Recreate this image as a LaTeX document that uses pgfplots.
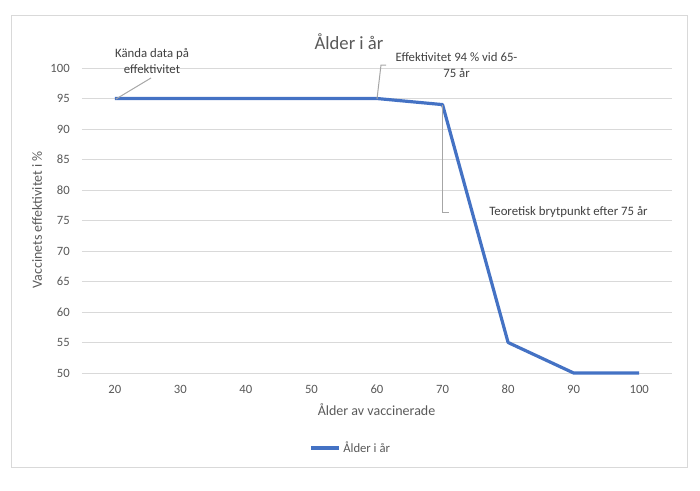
\documentclass[border=0pt]{standalone}
\usepackage{fontspec}
\setmainfont{Carlito}
\usepackage{pgfplots}
\pgfplotsset{compat=1.18}
\definecolor{txt}{HTML}{595959}
\definecolor{ann}{HTML}{404040}
\definecolor{gridc}{HTML}{D9D9D9}
\definecolor{lead}{HTML}{A6A6A6}
\definecolor{ser}{HTML}{4472C4}
\begin{document}
\begin{tikzpicture}
\begin{axis}[
  name=ax, at={(0,0)}, anchor=south west,
  scale only axis, width=442.5pt, height=228.75pt,
  xmin=15, xmax=105, ymin=50, ymax=100,
  xtick={20,30,...,100}, ytick={50,55,...,100},
  axis line style={draw=none},
  major tick length=0pt,
  ymajorgrids=true, xmajorgrids=false,
  major grid style={draw=gridc, line width=0.75pt},
  /pgf/number format/assume math mode=true,
  ticklabel style={font=\fontsize{9.5}{11}\selectfont, text=txt},
  xticklabel style={anchor=north, inner sep=0pt, yshift=-9pt},
  yticklabel style={anchor=east, inner sep=0pt, xshift=-9pt},
  clip=false,
  legend style={at={(0.456,-0.246)}, anchor=center, draw=none, fill=none,
    font=\fontsize{9.5}{11}\selectfont, text=txt},
  legend image code/.code={\draw[#1] (0pt,0pt) -- (21pt,0pt);},
]
\addplot[ser, line width=2.4pt, line join=round] coordinates {
  (20,95) (30,95) (40,95) (50,95) (60,95) (70,94) (80,55) (90,50) (100,50)
};
\addlegendentry{Ålder i år}
\end{axis}
\begin{scope}[shift={(ax.south west)}]
  \path[use as bounding box] (-61.5pt,-87.75pt) rectangle (463.5pt,279.75pt);
  \draw[gridc, line width=0.75pt] (-52.5pt,-70.5pt) rectangle (453.75pt,267.75pt);
  \node[text=txt, font=\fontsize{14}{16}\selectfont] at (200.25pt,248.25pt) {Ålder i år};
  \node[text=txt, font=\fontsize{10.5}{12}\selectfont] at (220.9pt,-27.75pt) {Ålder av vaccinerade};
  \node[text=txt, font=\fontsize{10.5}{12}\selectfont, rotate=90] at (-33.75pt,114.75pt) {Vaccinets effektivitet i \%};
  % annotations
  \draw[lead, line width=0.75pt] (25.5pt,205.5pt) -- (51.75pt,221.25pt);
  \node[text=ann, font=\fontsize{9.6}{12}\selectfont, align=center] at (52.5pt,234pt) {Kända data på\\effektivitet};
  \draw[lead, line width=0.75pt] (221.25pt,205.5pt) -- (224.25pt,231pt) -- (228pt,231pt);
  \node[text=ann, font=\fontsize{9.6}{12}\selectfont, align=center] at (280.9pt,231pt) {Effektivitet 94 \% vid 65-\\75 år};
  \draw[lead, line width=0.75pt] (270pt,201pt) -- (270pt,120.75pt) -- (275.25pt,120.75pt);
  \node[text=ann, font=\fontsize{9.6}{12}\selectfont, anchor=west, inner sep=0pt] at (305.25pt,120.75pt) {Teoretisk brytpunkt efter 75 år};
\end{scope}
\end{tikzpicture}
\end{document}
